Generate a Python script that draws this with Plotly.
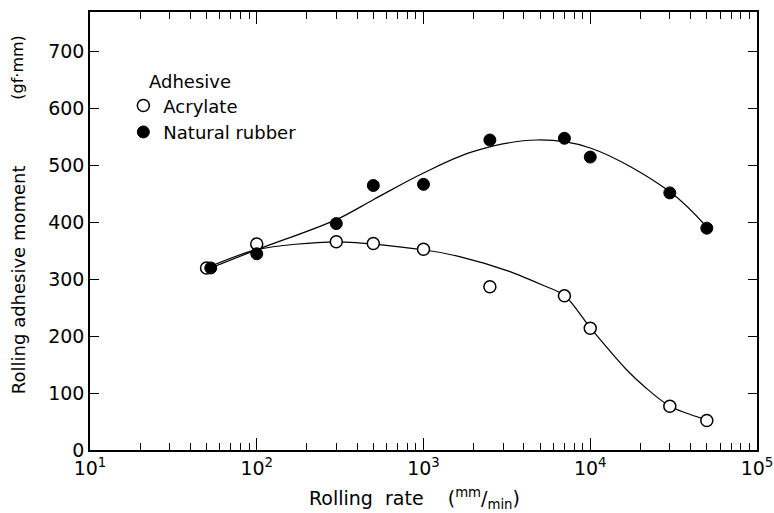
import plotly.graph_objects as go

# Measured points
rate = [50, 100, 300, 500, 1000, 2500, 7000, 10000, 30000, 50000]
acrylate = [320, 362, 366, 363, 353, 287, 271, 214, 77, 52]
rubber_rate = [53, 100, 300, 500, 1000, 2500, 7000, 10000, 30000, 50000]
rubber = [320, 345, 398, 465, 467, 545, 548, 515, 452, 390]

# Fitted curves
acr_curve_x = [50, 100, 300, 1000, 1645, 3270, 5160, 7000, 10000, 16400, 21600, 30000, 50000]
acr_curve_y = [320, 352, 366, 352, 340, 314, 290, 272, 215, 142, 109, 77, 53]
rub_curve_x = [53, 100, 300, 500, 1000, 2000, 4800, 10000, 30000, 50000]
rub_curve_y = [320, 352, 405, 440, 487, 525, 545, 531, 454, 392]

x_tickvals = [10, 100, 1000, 10000, 100000]
x_ticktext = ["10<sup>1</sup>", "10<sup>2</sup>", "10<sup>3</sup>", "10<sup>4</sup>", "10<sup>5</sup>"]
x_minor = [20, 30, 40, 50, 60, 70, 80, 90,
           200, 300, 400, 500, 600, 700, 800, 900,
           2000, 3000, 4000, 5000, 6000, 7000, 8000, 9000,
           20000, 30000, 40000, 50000, 60000, 70000, 80000, 90000]
y_tickvals = [0, 100, 200, 300, 400, 500, 600, 700]

FONT = "DejaVu Sans"
fig = go.Figure()
fig.add_trace(go.Scatter(x=acr_curve_x, y=acr_curve_y, mode="lines",
                         line=dict(color="black", width=1.2, shape="spline", smoothing=0.8),
                         showlegend=False, hoverinfo="skip"))
fig.add_trace(go.Scatter(x=rub_curve_x, y=rub_curve_y, mode="lines",
                         line=dict(color="black", width=1.2, shape="spline", smoothing=1.0),
                         showlegend=False, hoverinfo="skip"))
fig.add_trace(go.Scatter(x=rate, y=acrylate, mode="markers", name="Acrylate",
                         marker=dict(symbol="circle", size=12, color="white",
                                     line=dict(color="black", width=1.5))))
fig.add_trace(go.Scatter(x=rubber_rate, y=rubber, mode="markers", name="Natural rubber",
                         marker=dict(symbol="circle", size=12, color="black",
                                     line=dict(color="black", width=1))))

fig.update_layout(
    width=774, height=513,
    margin=dict(l=90, r=17, t=12, b=63),
    paper_bgcolor="white", plot_bgcolor="white",
    font=dict(family=FONT, size=18, color="black"),
    legend=dict(x=0.05, y=0.828, xanchor="left", yanchor="top",
                bgcolor="rgba(0,0,0,0)", itemwidth=30,
                font=dict(size=18), tracegroupgap=0),
    xaxis=dict(type="log", range=[1, 5], tickvals=x_tickvals, ticktext=x_ticktext,
               automargin=False,
               showgrid=False, zeroline=False, showline=True, linecolor="black",
               linewidth=1.5, mirror="ticks", ticks="inside", ticklen=12,
               tickcolor="black", tickfont=dict(size=19),
               minor=dict(ticks="inside", ticklen=7, tickcolor="black", showgrid=False,
                          tickvals=x_minor)),
    yaxis=dict(range=[0, 770], tickvals=y_tickvals, automargin=False,
               showgrid=False, zeroline=False, showline=True, linecolor="black",
               linewidth=1.5, mirror="ticks", ticks="inside", ticklen=9,
               tickcolor="black", tickfont=dict(size=19)),
)

fig.add_annotation(text="Adhesive", xref="paper", yref="paper",
                   x=0.0855, y=0.842, showarrow=False, font=dict(size=18),
                   xanchor="left", yanchor="middle")
fig.add_annotation(text="Rolling adhesive moment", xref="paper", yref="paper",
                   x=-0.108, y=0.39, textangle=-90, showarrow=False,
                   font=dict(size=18), xanchor="center", yanchor="middle")
fig.add_annotation(text="(gf·mm)", xref="paper", yref="paper",
                   x=-0.108, y=0.875, textangle=-90, showarrow=False,
                   font=dict(size=16), xanchor="center", yanchor="middle")
fig.add_annotation(text="Rolling  rate    (<sup>mm</sup>/<sub>min</sub>)", xref="paper", yref="paper",
                   x=0.487, y=-0.11, showarrow=False, font=dict(size=19),
                   xanchor="center", yanchor="middle")

fig.write_html("out.html")
